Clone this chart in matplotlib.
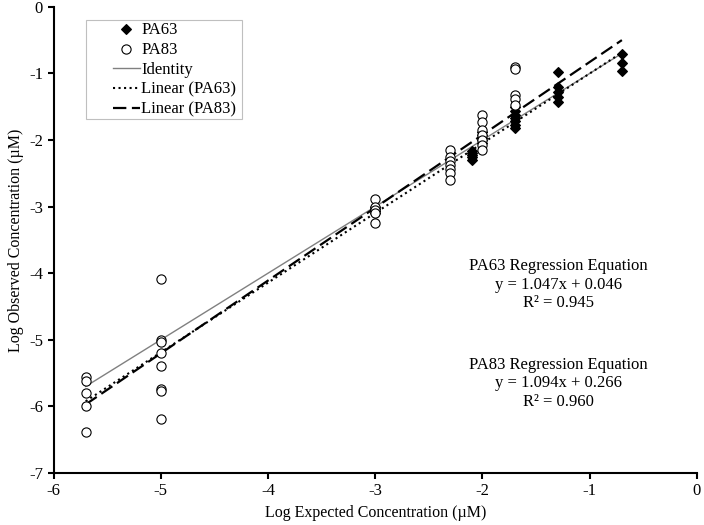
import numpy as np
import matplotlib.pyplot as plt
from matplotlib.patches import Rectangle

plt.rcParams['font.family'] = ['Liberation Serif', 'DejaVu Serif']
plt.rcParams['axes.unicode_minus'] = False

# PA63 observed values (log uM) by expected concentration
pa63_x = [-3, -3, -3, -3,
          -2.1, -2.1, -2.1, -2.1, -2.1,
          -2, -2, -2, -2, -2,
          -1.7, -1.7, -1.7, -1.7, -1.7, -1.7, -1.7,
          -1.3, -1.3, -1.3, -1.3, -1.3,
          -0.7, -0.7, -0.7]
pa63_y = [-3.0, -3.03, -3.06, -3.1,
          -2.17, -2.2, -2.23, -2.26, -2.3,
          -1.88, -1.93, -1.97, -2.0, -2.05,
          -1.5, -1.56, -1.62, -1.67, -1.72, -1.77, -1.82,
          -0.98, -1.2, -1.28, -1.35, -1.43,
          -0.71, -0.84, -0.96]

# PA83 observed values
pa83_x = [-5.7, -5.7, -5.7, -5.7, -5.7,
          -5, -5, -5, -5, -5, -5, -5, -5,
          -3, -3, -3, -3, -3,
          -2.3, -2.3, -2.3, -2.3, -2.3, -2.3, -2.3,
          -2, -2, -2, -2, -2, -2, -2,
          -1.7, -1.7, -1.7, -1.7, -1.7]
pa83_y = [-5.56, -5.62, -5.8, -6.0, -6.38,
          -4.08, -5.0, -5.03, -5.2, -5.39, -5.74, -5.77, -6.19,
          -2.88, -3.0, -3.05, -3.1, -3.24,
          -2.15, -2.25, -2.32, -2.38, -2.43, -2.5, -2.6,
          -1.62, -1.73, -1.85, -1.92, -2.0, -2.07, -2.15,
          -0.9, -0.93, -1.32, -1.38, -1.47]

# regression fits
fit63 = (1.047, 0.046)
fit83 = (1.094, 0.266)
x_range = np.array([-5.7, -0.7])

fig = plt.figure(figsize=(7.04, 5.25), dpi=100)
ax = fig.add_axes([0.076, 0.099, 0.914, 0.888])

ax.scatter(pa63_x, pa63_y, marker='D', s=24, color='black', label='PA63', zorder=3)
ax.scatter(pa83_x, pa83_y, marker='o', s=44, facecolors='white', edgecolors='black',
           linewidths=0.8, label='PA83', zorder=3)
ax.plot(x_range, x_range, color='#808080', lw=1, label='Identity')
ax.plot(x_range, fit63[0] * x_range + fit63[1], color='black', ls=':', lw=1.5,
        label='Linear (PA63)')
ax.plot(x_range, fit83[0] * x_range + fit83[1], color='black', ls=(0, (6, 2.5)), lw=1.6,
        label='Linear (PA83)')

ax.set_xlim(-6, 0)
ax.set_ylim(-7, 0)
ax.set_xticks(range(-6, 1))
ax.set_yticks(range(-7, 1))
ax.spines['top'].set_visible(False)
ax.spines['right'].set_visible(False)
ax.spines['left'].set_linewidth(1.5)
ax.spines['bottom'].set_linewidth(1.5)
ax.tick_params(direction='out', length=4, width=1.5, labelsize=12)
ax.set_xlabel('Log Expected Concentration (µM)', fontsize=11.5)
ax.set_ylabel('Log Observed Concentration (µM)', fontsize=11.5)

ax.text(-1.29, -4.17, 'PA63 Regression Equation\ny = 1.047x + 0.046\nR² = 0.945',
        ha='center', va='center', fontsize=12, linespacing=1.2)
ax.text(-1.29, -5.65, 'PA83 Regression Equation\ny = 1.094x + 0.266\nR² = 0.960',
        ha='center', va='center', fontsize=12, linespacing=1.2)

# legend without its own frame, boxed by a rectangle like the original
ax.legend(loc='upper left', bbox_to_anchor=(0.092, 0.968), fontsize=12,
          frameon=False, handlelength=1.62, handletextpad=0.1, labelspacing=0.24,
          borderpad=0, borderaxespad=0, scatterpoints=1)
ax.add_patch(Rectangle((0.050, 0.760), 0.243, 0.212, transform=ax.transAxes,
                       fill=False, edgecolor='#bfbfbf', lw=0.8, zorder=4))

fig.savefig('out.png', dpi=100)
